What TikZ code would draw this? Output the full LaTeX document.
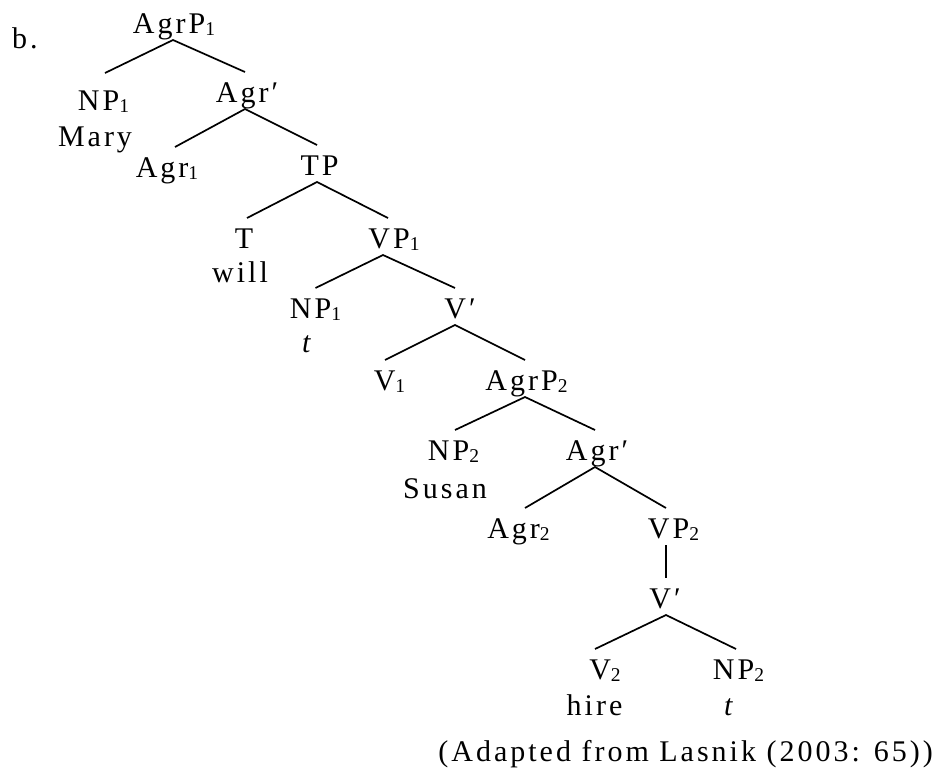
\documentclass[tikz,border=0pt]{standalone}
\usepackage{fontspec}
\setmainfont[LetterSpace=10]{Liberation Serif}
\newcommand\sbs[1]{\raisebox{-2pt}{\fontsize{19.5}{19.5}\selectfont #1}}
\newcommand\prm{\char"2032\relax}
\begin{document}
\begin{tikzpicture}[x=1pt,y=-1pt,
  lab/.style={inner sep=0pt, text height=23pt, text depth=0pt, outer xsep=0pt, outer ysep=7pt, anchor=base, font=\fontsize{30}{34}\selectfont},
  word/.style={inner sep=0pt, anchor=base, font=\fontsize{30}{34}\selectfont},
  branch/.style={line width=1.7pt}]
\useasboundingbox (0,0) rectangle (949,769);
\node[word, anchor=base west] (b) at (12,48) {b.};
\node[lab] (agrp1) at (174,33) {AgrP\sbs{1}};
\node[lab] (np1) at (103.5,110) {NP\sbs{1}};
\node[word] (mary) at (95,146) {Mary};
\node[lab] (agrbar1) at (247,102) {Agr\prm};
\node[lab] (agr1) at (167,177) {Agr\sbs{1}};
\node[lab] (tp) at (319.5,175) {TP};
\node[lab] (t) at (244,248) {T};
\node[word] (will) at (240,282) {will};
\node[lab] (vp1) at (394,248) {VP\sbs{1}};
\node[lab] (np1t) at (315.5,318) {NP\sbs{1}};
\node[word] (tr1) at (308,352) {\textit{t}};
\node[lab] (vbar1) at (460,318) {V\prm};
\node[lab] (v1) at (389.5,390) {V\sbs{1}};
\node[lab] (agrp2) at (526.5,390) {AgrP\sbs{2}};
\node[lab] (np2) at (453.5,460) {NP\sbs{2}};
\node[word] (susan) at (445,498) {Susan};
\node[lab] (agrbar2) at (597,460) {Agr\prm};
\node[lab] (agr2) at (518.5,538) {Agr\sbs{2}};
\node[lab] (vp2) at (673.5,538) {VP\sbs{2}};
\node[lab] (vbar2) at (665,608) {V\prm};
\node[lab] (v2) at (605,679) {V\sbs{2}};
\node[word] (hire) at (594.5,715) {hire};
\node[lab] (np2t) at (738.5,679) {NP\sbs{2}};
\node[word] (tr2) at (730,715) {\textit{t}};
\node[word, anchor=base east] (cap) at (933,761) {(Adapted from Lasnik (2003: 65))};

\draw[branch] ([xshift=1.5pt,yshift=7pt]np1.north) -- ([xshift=-1pt]agrp1.south) -- ([xshift=-2pt]agrbar1.north);
\draw[branch] ([xshift=8pt]agr1.north) -- ([xshift=-2pt]agrbar1.south) -- ([xshift=-2.5pt]tp.north);
\draw[branch] ([xshift=3pt]t.north) -- ([xshift=-2.5pt]tp.south) -- ([xshift=-6pt]vp1.north);
\draw[branch] (np1t.north) -- ([xshift=-11pt]vp1.south) -- ([xshift=-5pt]vbar1.north);
\draw[branch] ([xshift=-4.5pt]v1.north) -- ([xshift=-5pt]vbar1.south) -- ([xshift=-1.5pt]agrp2.north);
\draw[branch] ([xshift=1.5pt]np2.north) -- ([xshift=-1.5pt]agrp2.south) -- ([xshift=-2pt]agrbar2.north);
\draw[branch] ([xshift=6.5pt]agr2.north) -- ([xshift=-2pt]agrbar2.south) -- ([xshift=-7.5pt]vp2.north);
\draw[branch] ([xshift=-7.5pt]vp2.south) -- ([xshift=1pt]vbar2.north);
\draw[branch] ([xshift=-10pt]v2.north) -- ([xshift=1pt]vbar2.south) -- ([xshift=-2.5pt]np2t.north);
\end{tikzpicture}
\end{document}
